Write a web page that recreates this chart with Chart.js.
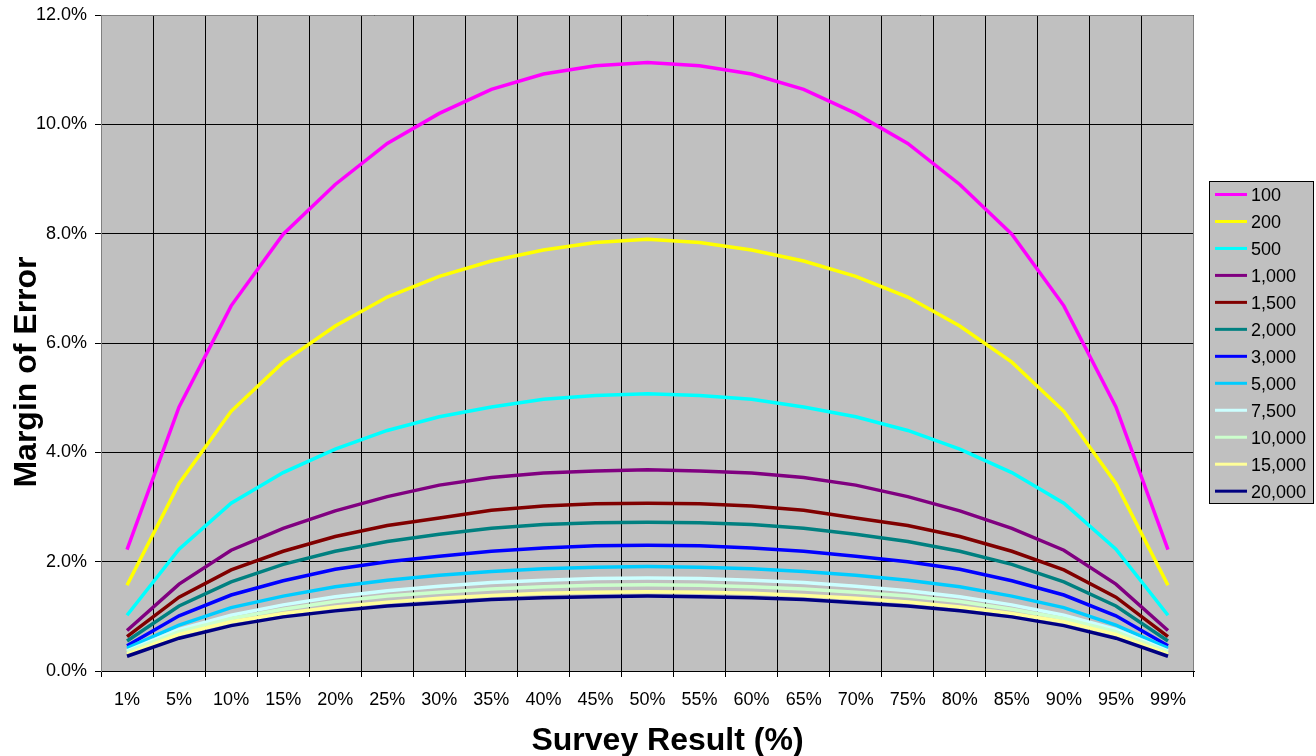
<!DOCTYPE html>
<html>
<head>
<meta charset="utf-8">
<title>Margin of Error</title>
<script src="https://cdn.jsdelivr.net/npm/chart.js@4/dist/chart.umd.min.js"></script>
<style>
    body { margin: 0; background: #fff; }
    #chart { display: block; }
</style>
</head>
<body>
<canvas id="chart" width="1316" height="756"></canvas>
<script>
"use strict";

// ========== DATA ========== //
const categories = ["1%", "5%", "10%", "15%", "20%", "25%", "30%", "35%", "40%", "45%", "50%",
    "55%", "60%", "65%", "70%", "75%", "80%", "85%", "90%", "95%", "99%"];
const yTicks = [0, 2, 4, 6, 8, 10, 12];
const xTitle = "Survey Result (%)";
const yTitle = "Margin of Error";

const sampleSizes = ["100", "200", "500", "1,000", "1,500", "2,000", "3,000", "5,000", "7,500", "10,000", "15,000", "20,000"];
const lineColors = ["#ff00ff", "#ffff00", "#00ffff", "#800080", "#800000", "#008080",
    "#0000ff", "#00ccff", "#ccffff", "#ccffcc", "#ffff99", "#000080"];

// margin of error in %, one list per sample size
const moe100 = [2.22, 4.83, 6.68, 7.99, 8.90, 9.65, 10.20, 10.64, 10.92, 11.07, 11.13, 11.07, 10.92, 10.64, 10.20, 9.65, 8.90, 7.99, 6.68, 4.83, 2.22];
const moe200 = [1.57, 3.43, 4.75, 5.65, 6.31, 6.84, 7.22, 7.50, 7.70, 7.84, 7.90, 7.84, 7.70, 7.50, 7.22, 6.84, 6.31, 5.65, 4.75, 3.43, 1.57];
const moe500 = [1.02, 2.23, 3.07, 3.63, 4.06, 4.40, 4.65, 4.83, 4.97, 5.04, 5.07, 5.04, 4.97, 4.83, 4.65, 4.40, 4.06, 3.63, 3.07, 2.23, 1.02];
const moe1000 = [0.74, 1.59, 2.21, 2.61, 2.93, 3.19, 3.40, 3.54, 3.62, 3.66, 3.68, 3.66, 3.62, 3.54, 3.40, 3.19, 2.93, 2.61, 2.21, 1.59, 0.74];
const moe1500 = [0.63, 1.35, 1.85, 2.19, 2.46, 2.66, 2.80, 2.94, 3.02, 3.06, 3.07, 3.06, 3.02, 2.94, 2.80, 2.66, 2.46, 2.19, 1.85, 1.35, 0.63];
const moe2000 = [0.55, 1.19, 1.63, 1.95, 2.19, 2.37, 2.50, 2.61, 2.68, 2.71, 2.72, 2.71, 2.68, 2.61, 2.50, 2.37, 2.19, 1.95, 1.63, 1.19, 0.55];
const moe3000 = [0.46, 1.01, 1.39, 1.65, 1.86, 2.00, 2.10, 2.19, 2.25, 2.29, 2.30, 2.29, 2.25, 2.19, 2.10, 2.00, 1.86, 1.65, 1.39, 1.01, 0.46];
const moe5000 = [0.42, 0.84, 1.16, 1.37, 1.54, 1.66, 1.75, 1.82, 1.87, 1.90, 1.91, 1.90, 1.87, 1.82, 1.75, 1.66, 1.54, 1.37, 1.16, 0.84, 0.42];
const moe7500 = [0.37, 0.76, 1.02, 1.21, 1.36, 1.47, 1.55, 1.62, 1.66, 1.69, 1.70, 1.69, 1.66, 1.62, 1.55, 1.47, 1.36, 1.21, 1.02, 0.76, 0.37];
const moe10000 = [0.35, 0.72, 0.96, 1.13, 1.27, 1.37, 1.44, 1.50, 1.54, 1.57, 1.58, 1.57, 1.54, 1.50, 1.44, 1.37, 1.27, 1.13, 0.96, 0.72, 0.35];
const moe15000 = [0.31, 0.67, 0.90, 1.05, 1.17, 1.26, 1.33, 1.38, 1.42, 1.44, 1.45, 1.44, 1.42, 1.38, 1.33, 1.26, 1.17, 1.05, 0.90, 0.67, 0.31];
const moe20000 = [0.27, 0.60, 0.83, 0.99, 1.10, 1.19, 1.25, 1.31, 1.34, 1.36, 1.37, 1.36, 1.34, 1.31, 1.25, 1.19, 1.10, 0.99, 0.83, 0.60, 0.27];

const seriesValues = [moe100, moe200, moe500, moe1000, moe1500, moe2000,
    moe3000, moe5000, moe7500, moe10000, moe15000, moe20000];

// ========== PLUGINS ========== //
const FONT = "'Liberation Sans', Arial, Helvetica, sans-serif";

// grey plot area + grey frame (left, top, right)
const plotArea = {
    id: 'plotArea',
    beforeDraw(chart) {
        const { ctx, chartArea: a } = chart;
        ctx.save();
        ctx.fillStyle = '#c0c0c0';
        ctx.fillRect(a.left, a.top, a.right - a.left, a.bottom - a.top);
        ctx.restore();
    },
    beforeDatasetsDraw(chart) {
        const { ctx, chartArea: a } = chart;
        const l = Math.round(a.left) + 0.5;
        const r = Math.round(a.right) - 0.5;
        const t = Math.round(a.top) + 0.5;
        const b = Math.round(a.bottom);
        ctx.save();
        ctx.strokeStyle = '#808080';
        ctx.lineWidth = 1;
        ctx.beginPath();
        ctx.moveTo(l, b);
        ctx.lineTo(l, t);
        ctx.lineTo(r, t);
        ctx.lineTo(r, b);
        ctx.stroke();
        ctx.restore();
    }
};

// boxed legend on the right, like the spreadsheet one
const sideLegend = {
    id: 'sideLegend',
    afterDraw(chart) {
        const ctx = chart.ctx;
        ctx.save();
        ctx.fillStyle = '#c0c0c0';
        ctx.fillRect(1209.5, 181.5, 104, 322);
        ctx.strokeStyle = '#000';
        ctx.lineWidth = 1;
        ctx.strokeRect(1209.5, 181.5, 104, 322);
        ctx.font = `18px ${FONT}`;
        ctx.textBaseline = 'middle';
        ctx.textAlign = 'left';
        chart.data.datasets.forEach((ds, i) => {
            const y = 194.5 + i * 26.97;
            ctx.strokeStyle = ds.borderColor;
            ctx.lineWidth = 3;
            ctx.beginPath();
            ctx.moveTo(1215, y);
            ctx.lineTo(1247, y);
            ctx.stroke();
            ctx.fillStyle = '#000';
            ctx.fillText(ds.label, 1251, y + 1.5);
        });
        ctx.restore();
    }
};

// axis titles (centred on the whole picture, not on the plot)
const axisTitles = {
    id: 'axisTitles',
    afterDraw(chart) {
        const ctx = chart.ctx;
        ctx.save();
        ctx.fillStyle = '#000';
        ctx.font = `bold 32px ${FONT}`;
        ctx.textAlign = 'center';
        ctx.textBaseline = 'alphabetic';
        ctx.fillText(xTitle, 667.5, 750);
        ctx.translate(36, 372);
        ctx.rotate(-Math.PI / 2);
        ctx.fillText(yTitle, 0, 0);
        ctx.restore();
    }
};

// ========== CHART ========== //
Chart.defaults.font.family = FONT;
Chart.defaults.color = '#000';

const datasets = sampleSizes.map((label, i) => ({
    label: label,
    data: seriesValues[i],
    borderColor: lineColors[i],
    backgroundColor: lineColors[i],
    borderWidth: 3.5,
    pointRadius: 0,
    tension: 0,
    fill: false,
    order: sampleSizes.length - i // later series on top
}));

new Chart(document.querySelector('#chart'), {
    type: 'line',
    data: {
        labels: categories,
        datasets: datasets
    },
    options: {
        responsive: false,
        animation: false,
        events: [],
        layout: {
            padding: { left: 0, top: 15, right: 122, bottom: 0 }
        },
        plugins: {
            legend: { display: false },
            tooltip: { enabled: false }
        },
        scales: {
            x: {
                type: 'category',
                offset: true,
                grid: {
                    offset: true,
                    color: '#000',
                    lineWidth: 1,
                    tickLength: 6
                },
                border: { color: '#000', width: 1 },
                ticks: {
                    font: { size: 18 },
                    padding: 12,
                    maxRotation: 0,
                    autoSkip: false
                },
                afterFit(scale) {
                    scale.height = 85;
                }
            },
            y: {
                min: yTicks[0],
                max: yTicks[yTicks.length - 1],
                grid: {
                    color: '#000',
                    lineWidth: 1,
                    tickLength: 6
                },
                border: { color: '#808080', width: 1 },
                ticks: {
                    stepSize: yTicks[1] - yTicks[0],
                    font: { size: 18 },
                    padding: 8,
                    callback: v => v.toFixed(1) + '%'
                },
                afterFit(scale) {
                    scale.width = 101;
                    // let the plot reach the top padding exactly
                    scale.paddingTop = 0;
                    scale.paddingBottom = 0;
                }
            }
        }
    },
    plugins: [plotArea, sideLegend, axisTitles]
});
</script>
</body>
</html>
